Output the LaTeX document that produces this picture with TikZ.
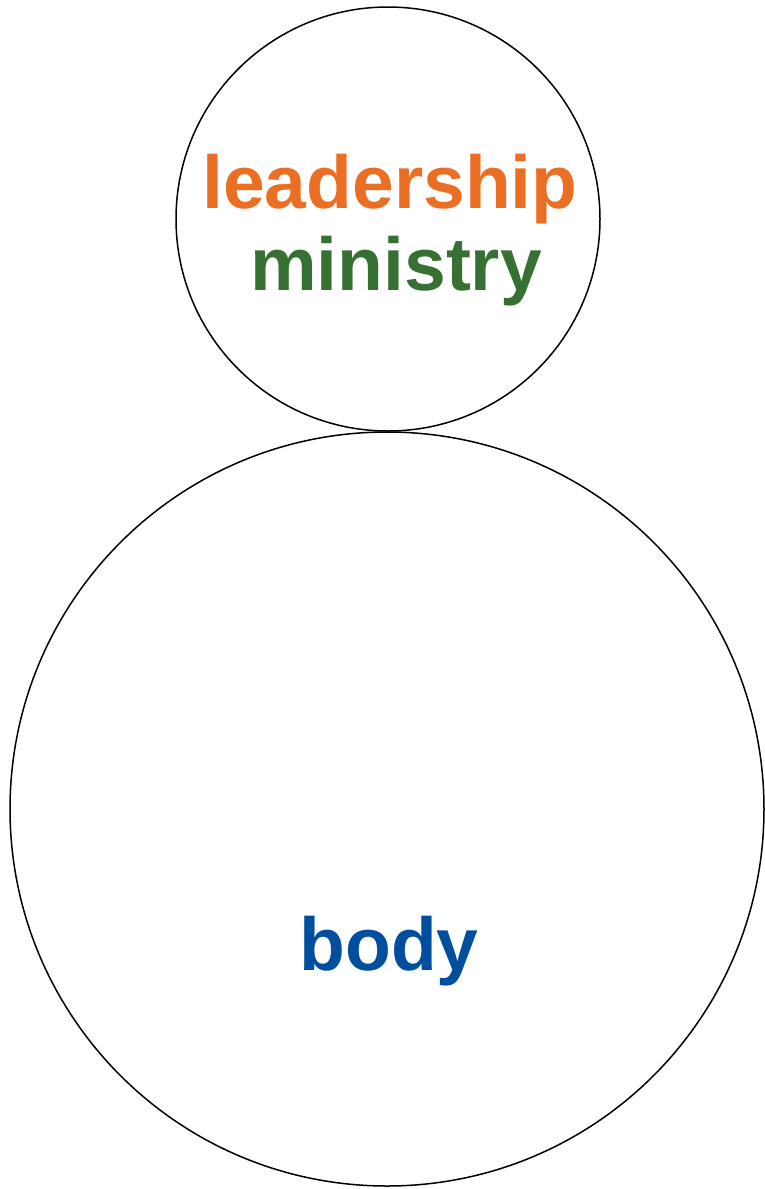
\documentclass[tikz,border=0pt]{standalone}
\usepackage{fontspec}
\setmainfont{Liberation Sans}
\definecolor{leadorange}{HTML}{EB6E25}
\definecolor{ministgreen}{HTML}{367032}
\definecolor{bodyblue}{HTML}{004E9E}
\begin{document}
\begin{tikzpicture}[x=1pt, y=-1pt,
  ring/.style={draw=black, line width=1.5pt},
  word/.style={font=\bfseries\fontsize{75}{80}\selectfont, anchor=base, inner sep=0pt}]
  \useasboundingbox (0,0) rectangle (764,1189);
  % 二つの円
  \draw[ring] (388,219) circle (212pt);
  \draw[ring] (387,809) circle (377pt);
  % 文字
  \node[word, text=leadorange] (lead) at (390,208) {leadership};
  \node[word, text=ministgreen] (minist) at (396,290) {ministry};
  \node[word, text=bodyblue] (body) at (389,970) {body};
\end{tikzpicture}
\end{document}
